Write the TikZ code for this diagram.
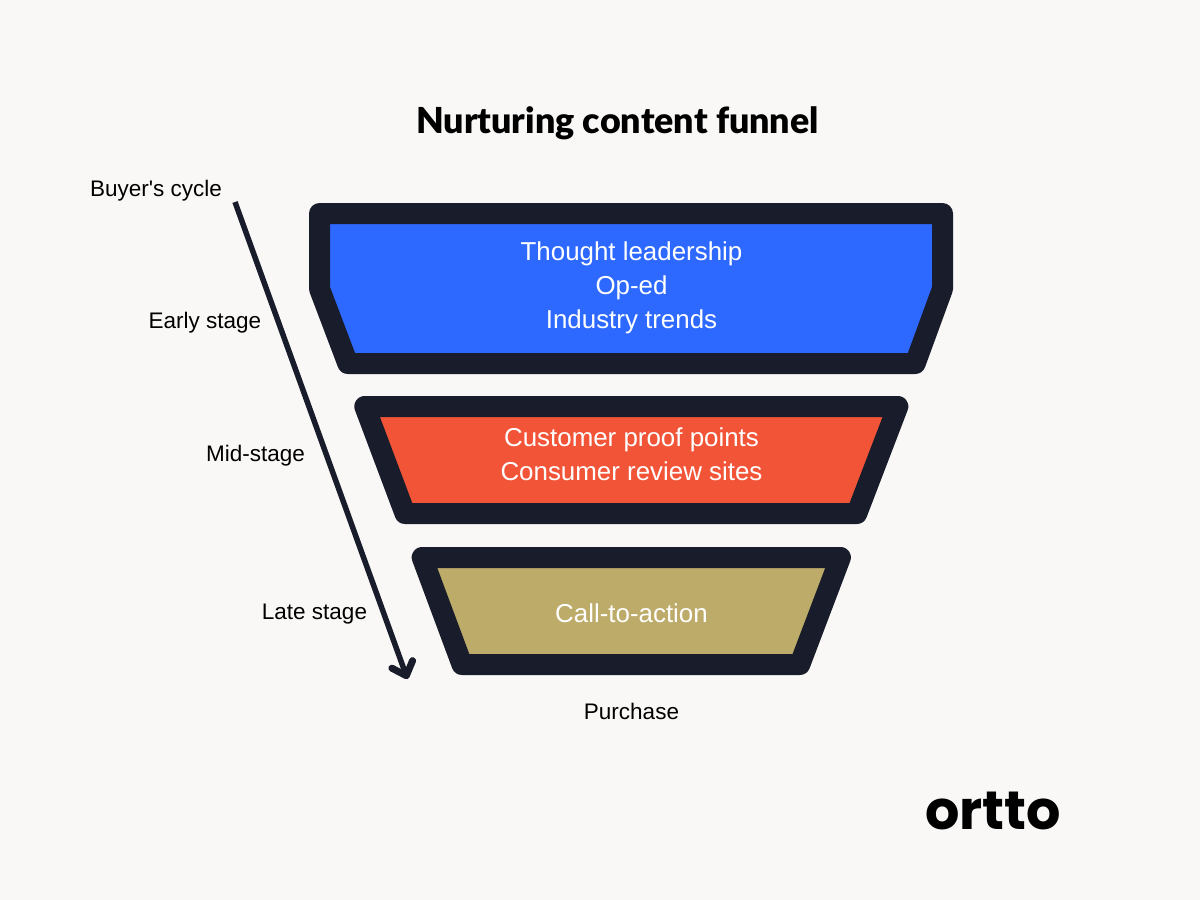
\documentclass[tikz,border=0pt]{standalone}
\usepackage{fontspec}
\setmainfont{Liberation Sans}[Ligatures=TeXOff]
\newfontfamily\titlefont{Lato Black}
\newfontfamily\logofont{Poppins Bold}
\usetikzlibrary{arrows.meta}
\definecolor{ink}{HTML}{191D2B}
\definecolor{paper}{HTML}{FAF8F6}
\definecolor{fblue}{HTML}{2D68FF}
\definecolor{fred}{HTML}{F25438}
\definecolor{fkhaki}{HTML}{BDAB69}
\tikzset{
  band/.style={draw=ink,line width=21pt,line join=round},
  inside/.style={text=white,font=\fontsize{25.9}{34}\selectfont,align=center,inner sep=0pt},
  note/.style={text=black,font=\fontsize{22.5}{26}\selectfont,inner sep=0pt},
}
\begin{document}
\begin{tikzpicture}[x=1pt,y=-1pt]
\useasboundingbox (0,0) rectangle (1200,900);
\fill[paper] (0,0) rectangle (1200,900);
\node[inner sep=0pt,font=\titlefont\fontsize{35.8}{40}\selectfont] (title) at (617.5,123.5) {Nurturing content funnel};
\path[band,fill=fblue] (319.5,213.5) -- (942.5,213.5) -- (942.5,288.8) -- (915.2,363.5) -- (347.8,363.5) -- (319.5,288.8) -- cycle;
\path[band,fill=fred] (364.8,406.5) -- (897.8,406.5) -- (856.8,513.5) -- (405.0,513.5) -- cycle;
\path[band,fill=fkhaki] (422.2,557.5) -- (840.4,557.5) -- (799.8,664.5) -- (462.0,664.5) -- cycle;
\node[inside] (top) at (631.5,288) {Thought leadership\\Op-ed\\Industry trends};
\node[inside] (mid) at (631.5,454.5) {Customer proof points\\Consumer review sites};
\node[inside] (low) at (631.5,613) {Call-to-action};
\node[note] (cycle) at (156,191) {Buyer's cycle};
\node[note] (early) at (205,323) {Early stage};
\node[note] (midst) at (255.5,456) {Mid-stage};
\node[note] (late) at (314.5,614) {Late stage};
\node[note] (purchase) at (631.5,711.5) {Purchase};
\coordinate (astart) at (235,202);
\coordinate (aend) at (407.5,679);
\draw[ink,line width=5.5pt,-{Straight Barb[length=12pt,width=22pt,line cap=round,round,line width=7pt]}] (astart) -- (aend);
\node[inner sep=0pt,font=\logofont\fontsize{54}{60}\selectfont,text=black] (logo) at (993,811) {ortto};
\end{tikzpicture}
\end{document}
